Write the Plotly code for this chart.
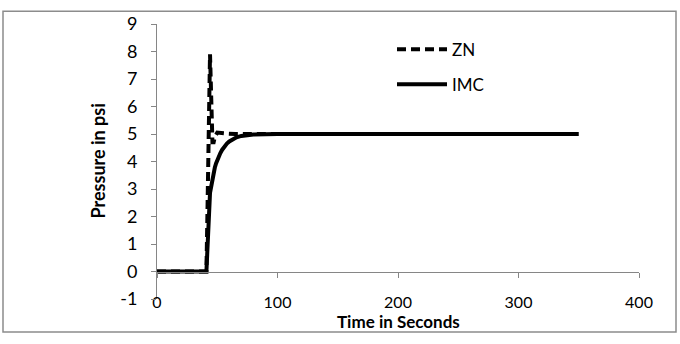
import plotly.graph_objects as go

# Time (s) and pressure (psi)
zn_t = [0, 41, 42, 43, 44, 45, 46, 47, 48, 50, 53, 57, 65, 80, 100, 150, 200, 250, 300, 350]
zn_p = [0, 0, 2.5, 5.5, 7.9, 6.3, 4.7, 4.7, 4.9, 5.05, 5.05, 5.02, 5.0, 5.0, 5, 5, 5, 5, 5, 5]

imc_t = [0, 41, 44, 45, 46, 47, 48, 49, 50, 51, 52.5, 54, 56, 58, 60, 63, 66, 70, 75, 80, 90, 100, 150, 200, 250, 300, 350]
imc_p = [0, 0, 2.86, 3.15, 3.4, 3.6, 3.78, 3.93, 4.06, 4.17, 4.3, 4.42, 4.55, 4.65, 4.73, 4.82, 4.88, 4.93, 4.96, 4.98, 4.99, 5, 5, 5, 5, 5, 5]

x_ticks = [0, 100, 200, 300, 400]
y_ticks = [-1, 0, 1, 2, 3, 4, 5, 6, 7, 8, 9]
y_tick_labels = ["-1", "0", "1", "2", "3", "4", "5", "6", "7", "8", "9"]

FONT = "Lato, 'Open Sans', sans-serif"
AX = "#868686"
FS = 17

fig = go.Figure()
fig.add_trace(go.Scatter(x=zn_t, y=zn_p, mode="lines", name="ZN",
                         line=dict(color="black", width=4, dash="9px,5px"),
                         legend="legend"))
fig.add_trace(go.Scatter(x=imc_t, y=imc_p, mode="lines", name="IMC",
                         line=dict(color="black", width=4),
                         xaxis="x2", legend="legend2"))

W, H = 680, 344
L, R, T, B = 157, 41, 16, 45
pw, ph = W - L - R, H - T - B

def px(xp):
    return (xp - L) / pw

def py(yp):
    return (H - B - yp) / ph

fig.update_layout(
    width=W, height=H,
    margin=dict(l=L, r=R, t=T, b=B, pad=0),
    paper_bgcolor="white", plot_bgcolor="white",
    font=dict(family=FONT, size=FS, color="black"),
    xaxis=dict(range=[0, 400], tickvals=x_ticks, showline=False, showgrid=False,
               zeroline=False, ticks="", tickfont=dict(size=16), ticklabelstandoff=-8),
    xaxis2=dict(range=[0, 400], tickvals=x_ticks, overlaying="x", anchor="free",
                position=0.1, showline=True, linecolor=AX, linewidth=1,
                ticks="outside", ticklen=5, tickcolor=AX, showticklabels=False,
                showgrid=False, zeroline=False),
    yaxis=dict(range=[-1, 9], tickvals=y_ticks, ticktext=y_tick_labels,
               showline=True, linecolor=AX,
               linewidth=1, ticks="outside", ticklen=5, tickcolor=AX,
               showgrid=False, zeroline=False, tickfont=dict(size=FS + 1),
               ticklabelstandoff=10),
    legend=dict(x=px(392), y=py(24), xanchor="left", yanchor="top",
                bgcolor="rgba(0,0,0,0)", itemwidth=50, font=dict(size=FS)),
    legend2=dict(x=px(392), y=py(60), xanchor="left", yanchor="top",
                 bgcolor="rgba(0,0,0,0)", itemwidth=50, font=dict(size=FS)),
    showlegend=True,
    annotations=[
        dict(text="<b>Pressure in psi</b>", xref="paper", yref="paper",
             x=px(97), y=0.5, textangle=-90, showarrow=False,
             font=dict(size=FS + 1), xanchor="center", yanchor="middle"),
        dict(text="<b>Time in Seconds</b>", xref="paper", yref="paper",
             x=0.5, y=py(322), showarrow=False, font=dict(size=FS),
             xanchor="center", yanchor="middle"),
    ],
    shapes=[dict(type="rect", xref="paper", yref="paper",
                 x0=px(3), x1=px(676), y0=py(333), y1=py(3),
                 line=dict(color="#8c8c8c", width=1.5), layer="below")],
)

fig.write_html("out.html")
